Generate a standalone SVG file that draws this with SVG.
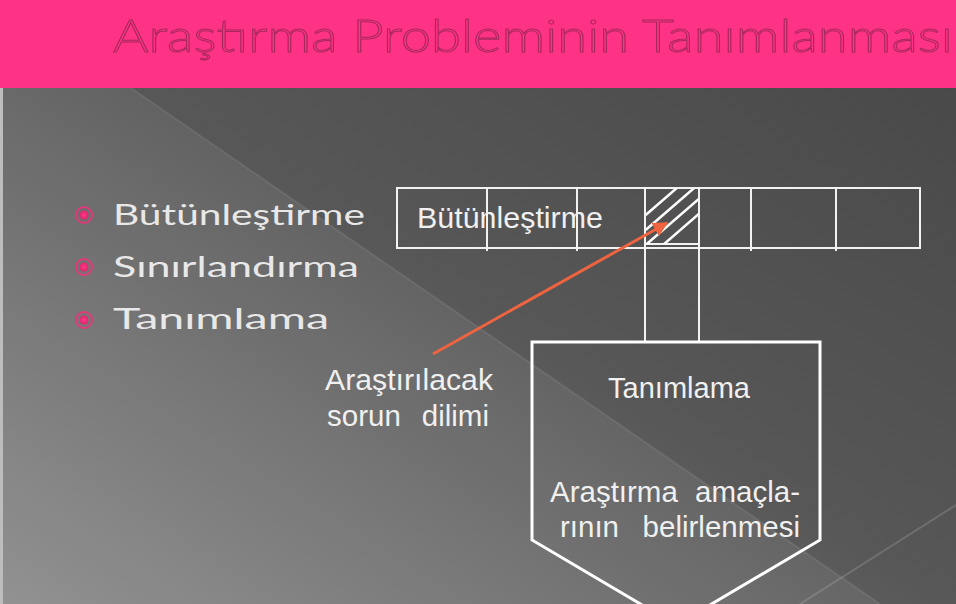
<svg xmlns="http://www.w3.org/2000/svg" width="956" height="604" viewBox="0 0 956 604">
  <defs>
    <linearGradient id="bg" x1="1" y1="0" x2="0" y2="1">
      <stop offset="0" stop-color="#474747"/>
      <stop offset="0.5" stop-color="#575757"/>
      <stop offset="1" stop-color="#8a8a8a"/>
    </linearGradient>
    <marker id="arr" viewBox="0 0 10 10" refX="9" refY="5" markerWidth="5" markerHeight="5" orient="auto">
      <path d="M0,0 L10,5 L0,10 z" fill="#ee6440"/>
    </marker>
    <clipPath id="hatchClip">
      <rect x="646" y="189" width="52" height="55"/>
    </clipPath>
    <radialGradient id="dot">
      <stop offset="0" stop-color="#ff3a86"/>
      <stop offset="1" stop-color="#e0246e"/>
    </radialGradient>
  </defs>
  <style>
    .ln { stroke: #f2f2f2; stroke-width: 2; fill: none; }
    .thick { stroke: #ffffff; stroke-width: 3; fill: none; }
    .lbl { font-family: "Liberation Sans", Arial, sans-serif; font-size: 29.5px; fill: #f0f0f0; }
    .bul { font-family: "Lato", "Liberation Sans", sans-serif; font-weight: 400; font-size: 29px; fill: #e8e8e8; }
    .title { font-family: "Lato", "Liberation Sans", sans-serif; font-weight: 300; font-size: 46px; fill: #ff3385; stroke: #a8285e; stroke-width: 1; }
  </style>

  <!-- background -->
  <rect x="0" y="0" width="956" height="604" fill="url(#bg)"/>
  <polygon points="0,88 131,88 880,604 0,604" fill="#ffffff" fill-opacity="0.07"/>
  <line x1="131" y1="88" x2="880" y2="604" stroke="#ffffff" stroke-opacity="0.08" stroke-width="2"/>
  <line x1="956" y1="505" x2="800" y2="604" stroke="#ffffff" stroke-opacity="0.15" stroke-width="2"/>
  <rect x="0" y="88" width="3" height="516" fill="#bdbdbd"/>

  <!-- title bar -->
  <g id="title">
    <rect x="0" y="0" width="956" height="88" fill="#ff3385"/>
    <text class="title" x="113" y="52" textLength="840" lengthAdjust="spacingAndGlyphs">Araştırma Probleminin Tanımlanması</text>
  </g>

  <!-- bullets -->
  <g id="bullets">
    <g id="bullet1">
      <circle cx="84" cy="215" r="8" fill="none" stroke="#e03a7a" stroke-width="2"/>
      <circle cx="84" cy="215" r="4.5" fill="url(#dot)"/>
      <text class="bul" x="113" y="225" textLength="252" lengthAdjust="spacingAndGlyphs">Bütünleştirme</text>
    </g>
    <g id="bullet2">
      <circle cx="84" cy="267" r="8" fill="none" stroke="#e03a7a" stroke-width="2"/>
      <circle cx="84" cy="267" r="4.5" fill="url(#dot)"/>
      <text class="bul" x="113" y="277" textLength="246" lengthAdjust="spacingAndGlyphs">Sınırlandırma</text>
    </g>
    <g id="bullet3">
      <circle cx="84" cy="320" r="8" fill="none" stroke="#e03a7a" stroke-width="2"/>
      <circle cx="84" cy="320" r="4.5" fill="url(#dot)"/>
      <text class="bul" x="113" y="329" textLength="216" lengthAdjust="spacingAndGlyphs">Tanımlama</text>
    </g>
  </g>

  <!-- table of slices -->
  <g id="table">
    <rect class="ln" x="397" y="188" width="523" height="60"/>
    <line class="ln" x1="487" y1="188" x2="487" y2="251"/>
    <line class="ln" x1="577" y1="188" x2="577" y2="251"/>
    <line class="ln" x1="645" y1="188" x2="645" y2="248"/>
    <line class="ln" x1="699" y1="188" x2="699" y2="248"/>
    <line class="ln" x1="751" y1="188" x2="751" y2="251"/>
    <line class="ln" x1="836" y1="188" x2="836" y2="251"/>
    <text class="lbl" x="417" y="228" textLength="186" lengthAdjust="spacingAndGlyphs">Bütünleştirme</text>
  </g>

  <g id="slice">
    <line class="ln" x1="645" y1="244" x2="699" y2="244"/>
    <g clip-path="url(#hatchClip)" stroke="#ffffff" stroke-width="2.5">
      <line x1="645.7" y1="215" x2="705.7" y2="163"/>
      <line x1="645.7" y1="230" x2="705.7" y2="178"/>
      <line x1="645.7" y1="245" x2="705.7" y2="193"/>
      <line x1="645.7" y1="260" x2="705.7" y2="208"/>
    </g>
    <line class="ln" x1="645" y1="248" x2="645" y2="342"/>
    <line class="ln" x1="699" y1="248" x2="699" y2="342"/>
  </g>

  <!-- pentagon -->
  <g id="tanimlama">
    <polygon class="thick" points="532,342 820,342 820,540 676,625 532,540"/>
    <text class="lbl" x="608" y="398" textLength="142" lengthAdjust="spacingAndGlyphs">Tanımlama</text>
    <text class="lbl" x="550" y="502">Araştırma</text>
    <text class="lbl" x="800" y="502" text-anchor="end">amaçla-</text>
    <text class="lbl" x="560" y="537">rının</text>
    <text class="lbl" x="800" y="537" text-anchor="end">belirlenmesi</text>
  </g>

  <!-- label -->
  <g id="label">
    <text class="lbl" x="325" y="390" textLength="168" lengthAdjust="spacingAndGlyphs">Araştırılacak</text>
    <text class="lbl" x="327" y="426">sorun</text>
    <text class="lbl" x="489" y="426" text-anchor="end">dilimi</text>
  </g>

  <!-- connectors -->
  <g id="connectors">
    <line x1="433" y1="354" x2="667" y2="223" stroke="#ee6440" stroke-width="3" marker-end="url(#arr)"/>
  </g>
</svg>
